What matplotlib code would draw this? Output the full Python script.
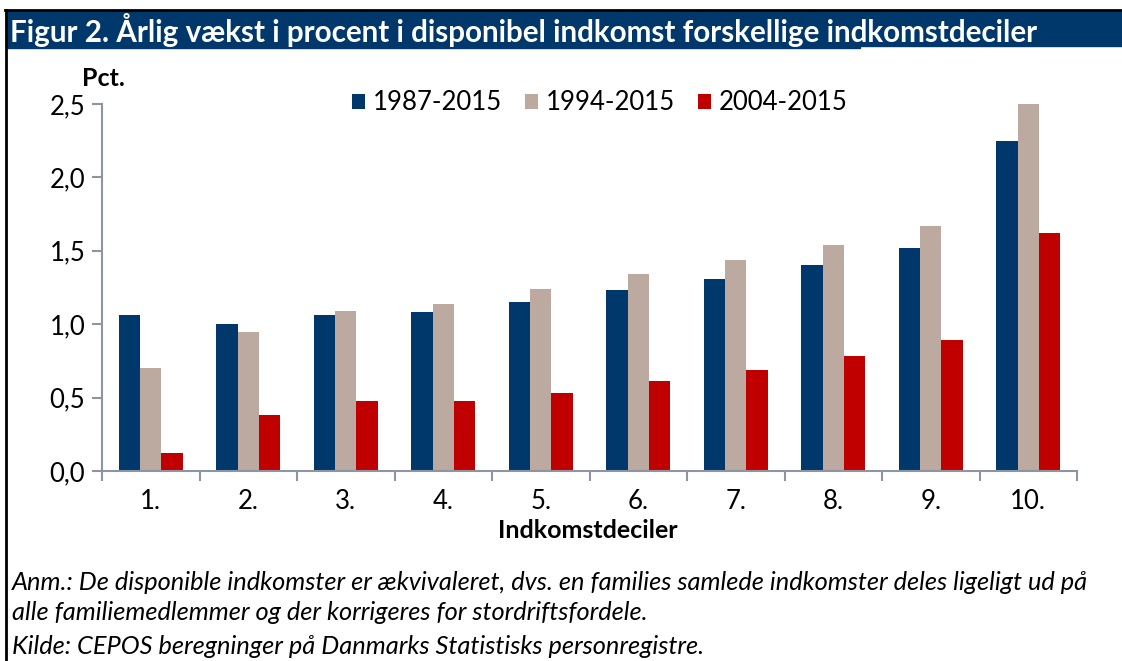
import matplotlib
matplotlib.use("Agg")
import matplotlib.pyplot as plt
from matplotlib.patches import Rectangle
from matplotlib.lines import Line2D
import numpy as np

plt.rcParams["font.family"] = ["Lato", "DejaVu Sans"]

# data
deciles = ["1.", "2.", "3.", "4.", "5.", "6.", "7.", "8.", "9.", "10."]
series_names = ["1987-2015", "1994-2015", "2004-2015"]
v_1987 = [1.06, 1.00, 1.06, 1.08, 1.15, 1.23, 1.31, 1.40, 1.52, 2.25]
v_1994 = [0.70, 0.95, 1.09, 1.14, 1.24, 1.34, 1.44, 1.54, 1.67, 2.50]
v_2004 = [0.12, 0.38, 0.48, 0.48, 0.53, 0.61, 0.69, 0.78, 0.89, 1.62]
y_ticks = [0.0, 0.5, 1.0, 1.5, 2.0, 2.5]

title = "Figur 2. Årlig vækst i procent i disponibel indkomst forskellige indkomstdeciler"
notes = [
    "Anm.: De disponible indkomster er ækvivaleret, dvs. en families samlede indkomster deles ligeligt ud på",
    "alle familiemedlemmer og der korrigeres for stordriftsfordele.",
    "Kilde: CEPOS beregninger på Danmarks Statistisks personregistre.",
]

NAVY = "#00386B"
TAN = "#BCA9A0"
RED = "#C00000"
AXIS = "#8D95A3"
colors = [NAVY, TAN, RED]

W, H = 1122, 661
fig = plt.figure(figsize=(W / 100, H / 100), dpi=100)


def fx(px):
    return px / W


def fy(py):
    return 1 - py / H


# frame and title bar
fig.patches.append(Rectangle((fx(6), fy(48)), fx(860) - fx(6), fy(11) - fy(48),
                             transform=fig.transFigure, color=NAVY, zorder=0))
fig.patches.append(Rectangle((fx(860), fy(46)), 1 - fx(860), fy(11) - fy(46),
                             transform=fig.transFigure, color=NAVY, zorder=0))
fig.lines.append(Line2D([fx(5), 1], [fy(10), fy(10)], transform=fig.transFigure,
                        color="black", lw=2))
fig.lines.append(Line2D([fx(6), fx(6)], [fy(10), 0], transform=fig.transFigure,
                        color="black", lw=2))
fig.text(fx(10), fy(30), title, color="white", fontsize=21.3, fontweight="bold",
         va="center", ha="left")

ax = fig.add_axes([fx(102), fy(471), fx(1077) - fx(102), fy(104) - fy(471)])

x = np.arange(len(deciles))
w = 0.22
for i, (vals, name) in enumerate(zip([v_1987, v_1994, v_2004], series_names)):
    ax.bar(x + (i - 1) * w, vals, width=w, color=colors[i], label=name, linewidth=0)

ax.set_xlim(-0.5, len(deciles) - 0.5)
ax.set_ylim(0, 2.5)
ax.set_yticks(y_ticks)
ax.set_yticklabels([f"{t:.1f}".replace(".", ",") for t in y_ticks], fontsize=18.5)

ax.set_xticks(np.arange(len(deciles) + 1) - 0.5)
ax.set_xticklabels([])
ax.set_xticks(x, minor=True)
ax.set_xticklabels(deciles, minor=True, fontsize=18.5)
ax.tick_params(axis="x", which="major", length=7, color=AXIS, width=1.5, direction="out")
ax.tick_params(axis="x", which="minor", length=0, pad=13)
ax.tick_params(axis="y", length=7, color=AXIS, width=1.5, pad=5)

for s in ["top", "right"]:
    ax.spines[s].set_visible(False)
for s in ["left", "bottom"]:
    ax.spines[s].set_color(AXIS)
    ax.spines[s].set_linewidth(1.5)

ax.legend(loc="center", bbox_to_anchor=(fx(600), fy(103)), bbox_transform=fig.transFigure,
          ncol=3, frameon=False, fontsize=18.5, handlelength=0.5, handleheight=0.5,
          handletextpad=0.3, columnspacing=0.9)

fig.text(fx(103), fy(78), "Pct.", fontsize=18, fontweight="bold", ha="center", va="center")
fig.text(fx(588), fy(531), "Indkomstdeciler", fontsize=18, fontweight="bold",
         ha="center", va="center")

for ypos, line in zip([583, 613, 646], notes):
    fig.text(fx(12), fy(ypos), line, fontsize=18.3, style="italic", ha="left", va="center")

fig.savefig("out.png", dpi=100)
